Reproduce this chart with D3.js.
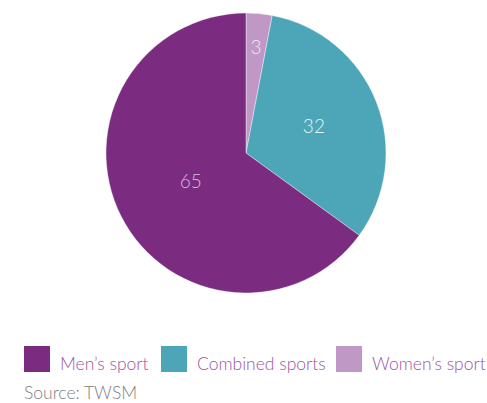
<!DOCTYPE html>
<html><head><meta charset="utf-8">
<script src="https://cdn.jsdelivr.net/npm/d3@7"></script>
<style>
html,body{margin:0;padding:0;background:#fff;}
svg{display:block;}
</style></head>
<body>
<svg id="chart" width="487" height="403"></svg>
<script>
const categories = ["Women’s sport", "Combined sports", "Men’s sport"];
const values = [3, 32, 65];
const colors = ["#bf98c5", "#4ca6b8", "#7b2b80"];
const labelColors = ["#f2e8f3", "#e4f3f6", "#d8bede"];
const legendOrder = ["Men’s sport", "Combined sports", "Women’s sport"];
const sourceText = "Source: TWSM";

const svg = d3.select("#chart");
const cx = 246, cy = 153, R = 140;
const labelR = [106, 73, 62];

const pie = d3.pie().sort(null).value(d => d)(values);
const arc = d3.arc().innerRadius(0).outerRadius(R);
const g = svg.append("g").attr("transform", `translate(${cx},${cy})`);
g.selectAll("path").data(pie).join("path")
  .attr("d", arc)
  .attr("fill", (d, i) => colors[i])
  .attr("stroke", "#fff").attr("stroke-width", 0.4);

g.selectAll("text").data(pie).join("text")
  .attr("transform", (d, i) => {
    const a = (d.startAngle + d.endAngle) / 2;
    return `translate(${labelR[i] * Math.sin(a)},${-labelR[i] * Math.cos(a)})`;
  })
  .attr("text-anchor", "middle").attr("dy", "0.35em")
  .attr("font-family", "Lato").attr("font-weight", 300).attr("font-size", 19)
  .attr("fill", (d, i) => labelColors[i])
  .text(d => d.data);

const color = d3.scaleOrdinal().domain(categories).range(colors);
const legX = [24, 161, 336];
const leg = svg.append("g");
legendOrder.forEach((c, i) => {
  leg.append("rect").attr("x", legX[i]).attr("y", 346).attr("width", 26).attr("height", 26).attr("fill", color(c));
  leg.append("text").attr("x", legX[i] + 36).attr("y", 370)
    .attr("font-family", "Lato").attr("font-weight", 300).attr("font-size", 17.5)
    .attr("fill", "#9b55a3").text(c);
});
svg.append("text").attr("x", 24).attr("y", 399)
  .attr("font-family", "Lato").attr("font-weight", 300).attr("font-size", 17.5)
  .attr("fill", "#808080").text(sourceText);
</script>
</body></html>
